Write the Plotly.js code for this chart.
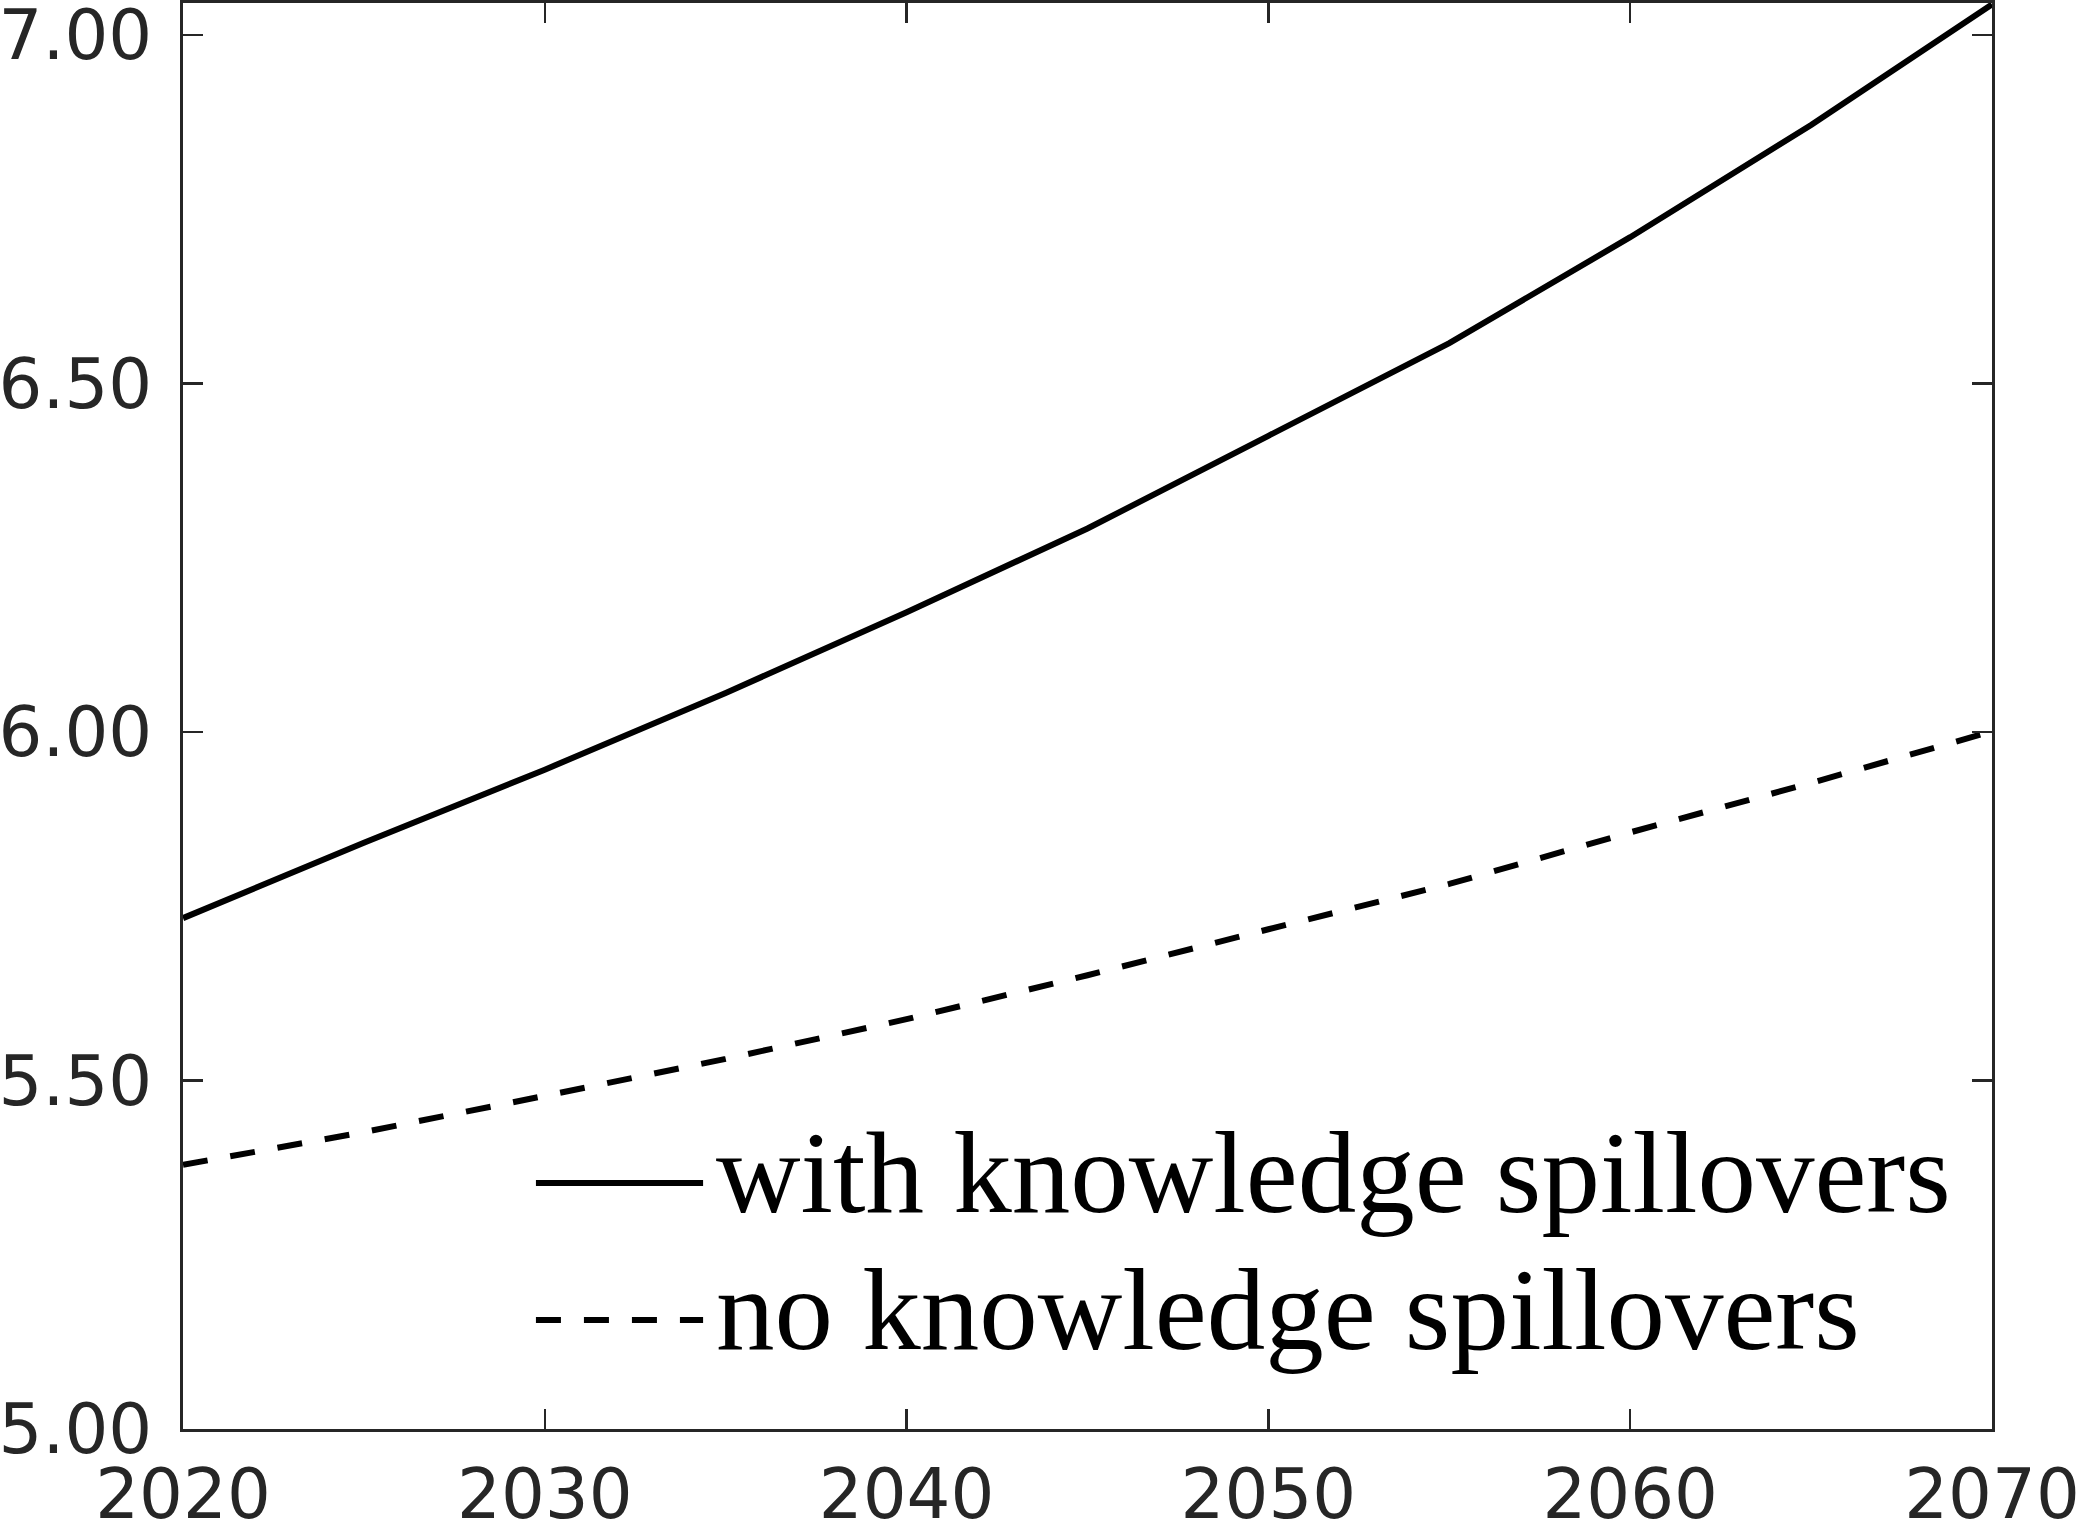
<!DOCTYPE html>
<html>
<head>
<meta charset="utf-8">
<script src="https://cdn.plot.ly/plotly-3.0.1.min.js"></script>
<style>
  html, body { margin: 0; padding: 0; background: #ffffff; }
  #chart { width: 2081px; height: 1527px; }
</style>
</head>
<body>
<div id="chart"></div>
<script>
// ---- data ----
const years = [2020, 2025, 2030, 2035, 2040, 2045, 2050, 2055, 2060, 2065, 2070];
const withSpillovers = [5.733, 5.841, 5.946, 6.056, 6.172, 6.292, 6.425, 6.558, 6.710, 6.871, 7.044];
const noSpillovers   = [5.379, 5.426, 5.478, 5.531, 5.588, 5.651, 5.717, 5.782, 5.856, 5.927, 6.001];
const seriesNames = ["with knowledge spillovers", "no knowledge spillovers"];
const xTickVals = [2020, 2030, 2040, 2050, 2060, 2070];
const yTickVals = [5.0, 5.5, 6.0, 6.5, 7.0];

const axisColor = '#262626';
const tickFont = { family: 'DejaVu Sans', size: 69, color: axisColor };

const traces = [
  { x: years, y: withSpillovers, name: seriesNames[0], type: 'scatter', mode: 'lines',
    line: { color: '#000000', width: 6, dash: 'solid' }, showlegend: false },
  { x: years, y: noSpillovers, name: seriesNames[1], type: 'scatter', mode: 'lines',
    line: { color: '#000000', width: 6, dash: '25px,23px' }, showlegend: false }
];

// custom legend (long line samples like the reference)
const legRows = [0.1725, 0.0764];
const legDash = ['solid', '25px,23px'];
const shapes = legRows.map((yy, i) => ({
  type: 'line', xref: 'paper', yref: 'paper',
  x0: 0.1951, x1: 0.2875, y0: yy, y1: yy,
  line: { color: '#000000', width: 6, dash: legDash[i] }
}));
const annotations = legRows.map((yy, i) => ({
  xref: 'paper', yref: 'paper', x: 0.2935, y: yy,
  xanchor: 'left', yanchor: 'middle', yshift: 11,
  text: seriesNames[i], showarrow: false,
  font: { family: 'Liberation Serif', size: 117, color: '#000000' }
}));

const layout = {
  width: 2081, height: 1527,
  margin: { l: 183, r: 89, t: 3, b: 98, pad: 0 },
  paper_bgcolor: '#ffffff', plot_bgcolor: '#ffffff',
  showlegend: false,
  xaxis: {
    range: [2020, 2070], tickvals: xTickVals, ticktext: xTickVals.map(String),
    ticks: 'inside', ticklen: 20, tickwidth: 2.5, tickcolor: axisColor,
    showline: true, linecolor: axisColor, linewidth: 3, mirror: 'ticks',
    showgrid: false, zeroline: false, tickfont: tickFont, ticklabelstandoff: 3,
    ticklabeloverflow: 'allow'
  },
  yaxis: {
    range: [5, 7.046], tickvals: yTickVals, tickformat: '.2f',
    ticks: 'inside', ticklen: 20, tickwidth: 2.5, tickcolor: axisColor,
    showline: true, linecolor: axisColor, linewidth: 3, mirror: 'ticks',
    showgrid: false, zeroline: false, tickfont: tickFont, ticklabelstandoff: 14,
    ticklabeloverflow: 'allow'
  },
  shapes: shapes,
  annotations: annotations
};

Plotly.newPlot('chart', traces, layout, { staticPlot: true, displayModeBar: false });
</script>
</body>
</html>
